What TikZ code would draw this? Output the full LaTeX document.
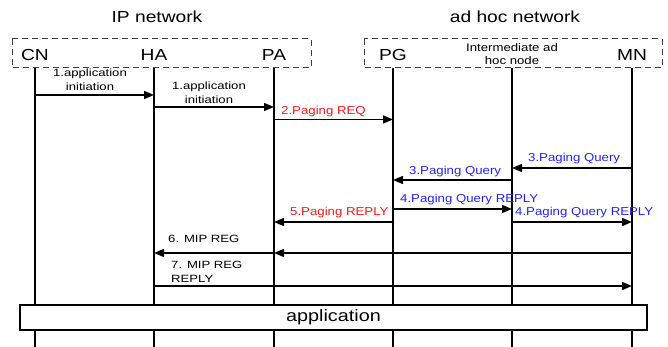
\documentclass[tikz,border=0pt]{standalone}
\usepackage{fontspec}
\setmainfont{Liberation Sans}
\usepackage{graphicx}
\usetikzlibrary{arrows.meta}
\definecolor{msgred}{RGB}{255,25,25}
\definecolor{msgblue}{RGB}{35,35,255}
\newcommand\hs[2]{\scalebox{#1}[1]{#2}}
\newcommand\twol[3]{\hs{#1}{\begin{tabular}{@{}c@{}}#2\\#3\end{tabular}}}
\newcommand\twoll[3]{\hs{#1}{\begin{tabular}{@{}l@{}}#2\\#3\end{tabular}}}
\begin{document}
\begin{tikzpicture}[x=1pt,y=-1pt,
 head/.style={inner sep=0pt, font=\fontsize{16}{19}\selectfont},
 lbl/.style={inner sep=0pt, font=\fontsize{10.5}{14}\selectfont},
 clbl/.style={inner sep=0pt, anchor=west, font=\fontsize{11.5}{14}\selectfont},
 life/.style={line width=1.4pt},
 msg/.style={line width=1.4pt,-{Triangle[length=10pt,width=8pt]}},
 grp/.style={draw=black!75, dash pattern=on 6pt off 4pt, line width=1pt},
]
\useasboundingbox (0,0) rectangle (668,347);
% titles
\node[head] (ipnet) at (157,17) {\hs{1.2}{IP network}};
\node[head] (adnet) at (515,17) {\hs{1.2}{ad hoc network}};
% group boxes
\draw[grp] (12,39) rectangle (311,68);
\draw[grp] (364,39) rectangle (662,68);
% heads
\node[head] (CN) at (35,55) {\hs{1.2}{CN}};
\node[head] (HA) at (154,55) {\hs{1.2}{HA}};
\node[head] (PA) at (274,55) {\hs{1.2}{PA}};
\node[head] (PG) at (393,55) {\hs{1.2}{PG}};
\node[lbl, font=\fontsize{11}{13}\selectfont] (IM) at (512,55.5) {\twol{1.2}{Intermediate ad}{hoc node}};
\node[head] (MN) at (632,55) {\hs{1.2}{MN}};
% lifelines
\coordinate (top) at (0,68);
\coordinate (bot) at (0,347);
\foreach \n in {CN,HA,PA,PG,IM,MN} \draw[life] (\n |- top) -- (\n |- bot);
% message levels
\coordinate (m1) at (0,95);
\coordinate (m1b) at (0,107);
\coordinate (m2) at (0,119.5);
\coordinate (m3a) at (0,168);
\coordinate (m3b) at (0,180);
\coordinate (m4a) at (0,209);
\coordinate (m4b) at (0,222);
\coordinate (m6) at (0,253);
\coordinate (m7) at (0,286);
% messages
\draw[msg] (CN |- m1) -- (HA |- m1);
\draw[msg] (HA |- m1b) -- (PA |- m1b);
\draw[msg] (PA |- m2) -- (PG |- m2);
\draw[msg] (MN |- m3a) -- (IM |- m3a);
\draw[msg] (IM |- m3b) -- (PG |- m3b);
\draw[msg] (PG |- m4a) -- (IM |- m4a);
\draw[msg] (IM |- m4b) -- (MN |- m4b);
\draw[msg] (PG |- m4b) -- (PA |- m4b);
\draw[msg] (MN |- m6) -- (PA |- m6);
\draw[msg] (PA |- m6) -- (HA |- m6);
\draw[msg] (HA |- m7) -- (MN |- m7);
% labels
\node[lbl] (l1) at (90,81) {\twol{1.25}{1.application}{initiation}};
\node[lbl] (l1b) at (209,94) {\twol{1.25}{1.application}{initiation}};
\node[clbl, text=msgred] (l2) at (281,112) {\hs{1.15}{2.Paging REQ}};
\node[clbl, text=msgblue] (l3a) at (528,159) {\hs{1.15}{3.Paging Query}};
\node[clbl, text=msgblue] (l3b) at (409,172) {\hs{1.15}{3.Paging Query}};
\node[clbl, text=msgblue] (l4a) at (400,200) {\hs{1.15}{4.Paging Query REPLY}};
\node[clbl, text=msgblue] (l4b) at (515,213) {\hs{1.15}{4.Paging Query REPLY}};
\node[clbl, text=msgred] (l5) at (290,213) {\hs{1.15}{5.Paging REPLY}};
\node[lbl, anchor=west] (l6) at (168,239) {\hs{1.25}{6. MIP REG}};
\node[lbl, anchor=west] (l7) at (171,272.5) {\twoll{1.25}{7. MIP REG}{REPLY}};
% application bar
\node[draw, fill=white, line width=1.2pt, minimum width=627pt, minimum height=25pt, inner sep=0pt, font=\fontsize{16.5}{19}\selectfont] (app) at (333.5,317.5) {\hs{1.2}{application}};
\end{tikzpicture}
\end{document}
